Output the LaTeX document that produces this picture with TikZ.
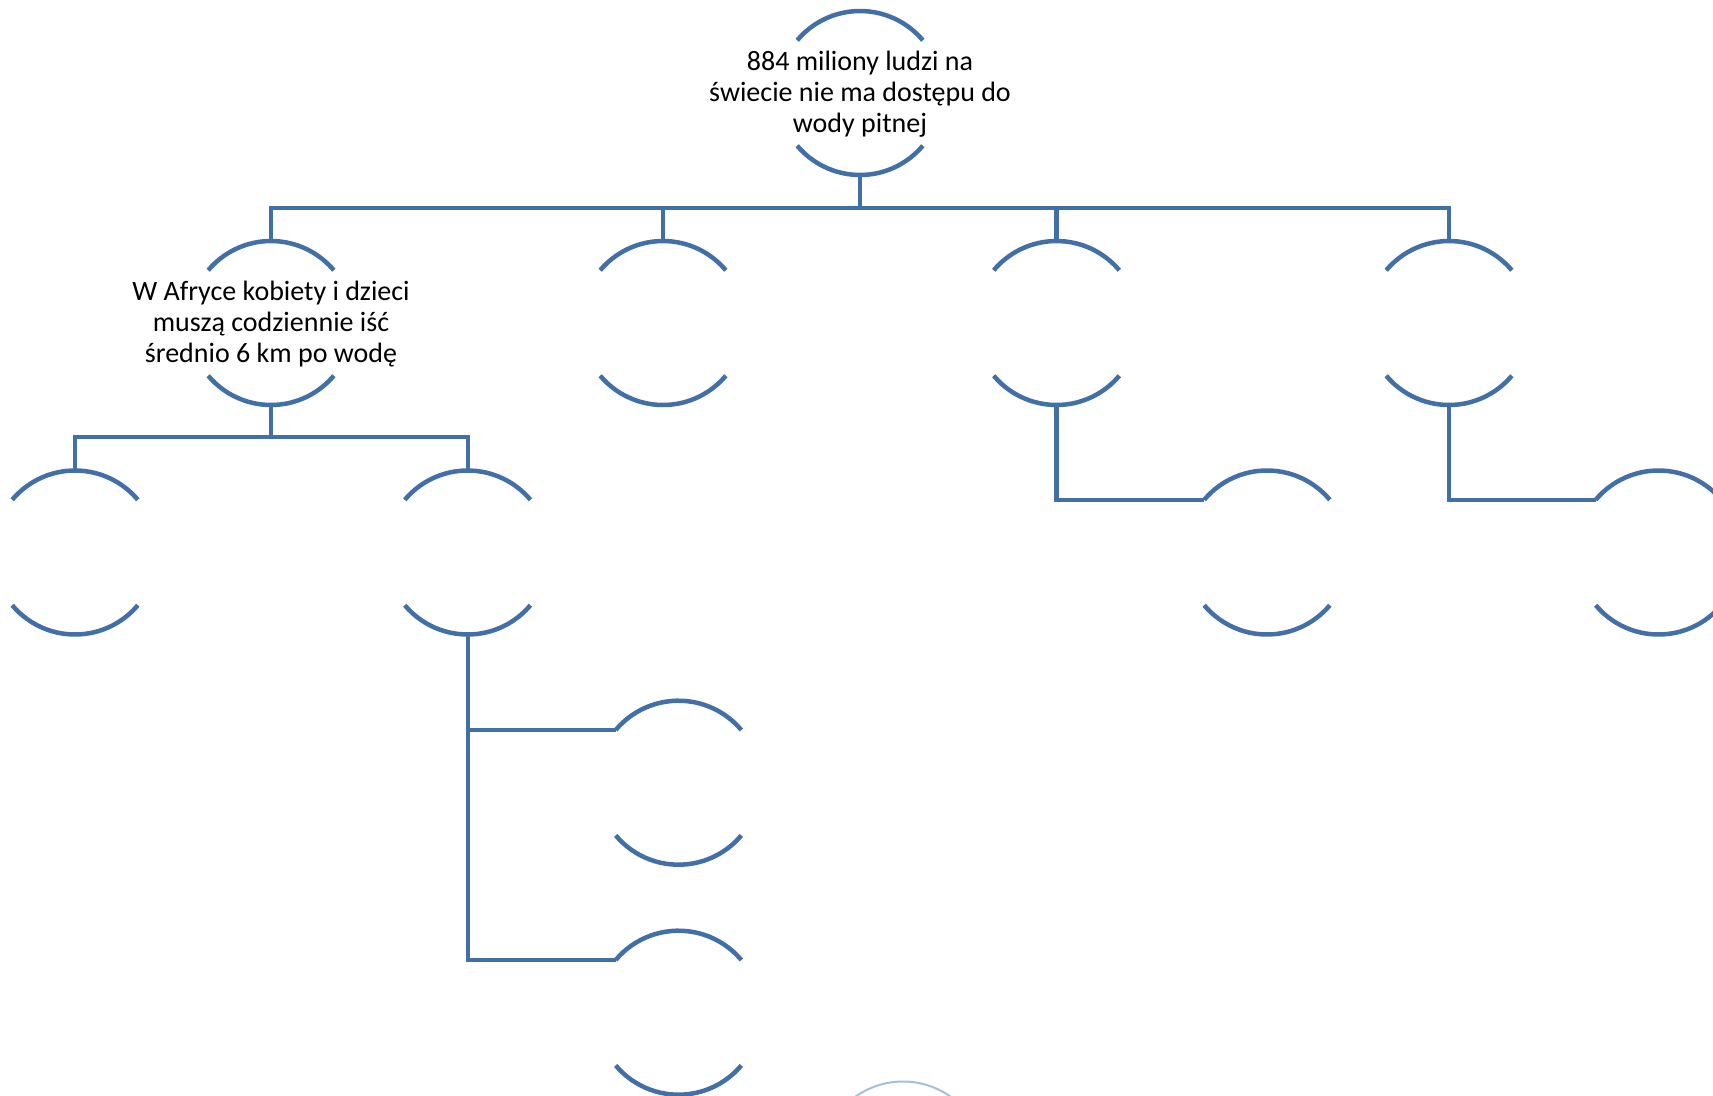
\documentclass[tikz,border=0pt]{standalone}
\usepackage{fontspec}
\setmainfont{Carlito}
\definecolor{hcblue}{RGB}{66,112,166}
\definecolor{hcfaint}{RGB}{168,190,221}
\begin{document}
\begin{tikzpicture}[x=1pt,y=1pt,
  hc/.style={circle,minimum size=164pt,inner sep=0pt,outer sep=0pt,draw=none},
  lbl/.style={align=center,inner sep=0pt,font=\fontsize{28}{31}\selectfont,text=black},
  arcline/.style={draw=hcblue,line width=4.5pt},
  conn/.style={draw=hcblue,line width=4.2pt,line join=miter}]
\useasboundingbox (0,0) rectangle (1713,-1095);
\clip (0,0) rectangle (1713,-1095);
\fill[white] (0,0) rectangle (1713,-1095);
\newcommand\halfcirc[1]{%
  \draw[arcline] (#1.140) arc[start angle=140,end angle=40,radius=82pt];
  \draw[arcline] (#1.220) arc[start angle=220,end angle=320,radius=82pt];}
% nodes
\node[hc] (top) at (860,-93) {};
\node[hc] (A) at (271,-323) {};
\node[hc] (B) at (663,-323) {};
\node[hc] (C) at (1056.5,-323) {};
\node[hc] (D) at (1449,-323) {};
\node[hc] (A1) at (75,-552.5) {};
\node[hc] (A2) at (467.6,-552.5) {};
\node[hc] (C1) at (1267,-552.5) {};
\node[hc] (D1) at (1658.5,-552.5) {};
\node[hc] (A21) at (678.5,-782.7) {};
\node[hc] (A22) at (678.5,-1012.7) {};
\node[hc] (faint) at (903,-1163.5) {};
\foreach \n in {top,A,B,C,D,A1,A2,C1,D1,A21,A22}{\halfcirc{\n}}
\draw[draw=hcfaint,line width=2pt] (faint) circle[radius=82pt];
% labels
\node[lbl] (toptxt) at ([yshift=-1pt]top) {884 miliony ludzi na\\świecie nie ma dostępu do\\wody pitnej};
\node[lbl] (Atxt) at ([yshift=-1pt]A) {W Afryce kobiety i dzieci\\muszą codziennie iść\\średnio 6 km po wodę};
% connectors
\draw[conn] (top.south) -- ++(0,-32.6) coordinate (j1);
\draw[conn] (A.north) |- (j1) -| (D.north);
\draw[conn] (B.north) -- (B.north |- j1);
\draw[conn] (C.north) -- (C.north |- j1);
\draw[conn] (A.south) -- ++(0,-32) coordinate (j2);
\draw[conn] (A1.north) |- (j2) -| (A2.north);
\draw[conn] (C.south) |- (C1.140);
\draw[conn] (D.south) |- (D1.140);
\draw[conn] (A2.south) |- (A21.140);
\draw[conn] (A2.south) |- (A22.140);
\end{tikzpicture}
\end{document}
